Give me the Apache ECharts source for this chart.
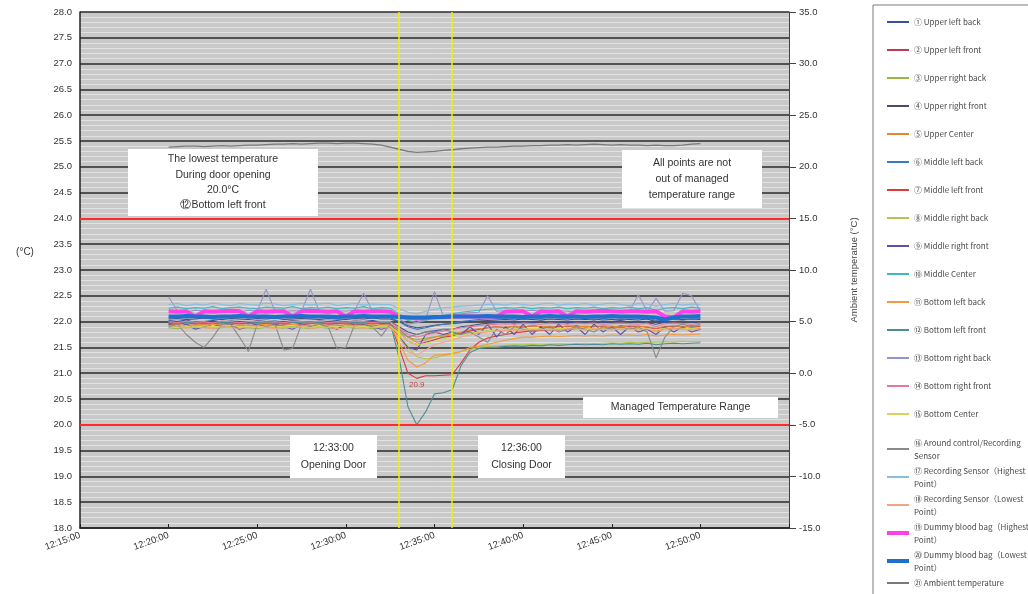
<!DOCTYPE html>
<html>
<head>
<meta charset="utf-8">
<script src="https://cdn.jsdelivr.net/npm/echarts@6/dist/echarts.min.js"></script>
<style>
  html, body { margin: 0; padding: 0; background: #ffffff; }
  #chart { width: 1028px; height: 594px; }
</style>
</head>
<body>
<div id="chart"></div>
<script>
// Sample times (30 s logging interval)
const TIMES = [
  '12:20:00','12:20:30','12:21:00','12:21:30','12:22:00','12:22:30','12:23:00','12:23:30','12:24:00','12:24:30',
  '12:25:00','12:25:30','12:26:00','12:26:30','12:27:00','12:27:30','12:28:00','12:28:30','12:29:00','12:29:30',
  '12:30:00','12:30:30','12:31:00','12:31:30','12:32:00','12:32:30','12:33:00','12:33:30','12:34:00','12:34:30',
  '12:35:00','12:35:30','12:36:00','12:36:30','12:37:00','12:37:30','12:38:00','12:38:30','12:39:00','12:39:30',
  '12:40:00','12:40:30','12:41:00','12:41:30','12:42:00','12:42:30','12:43:00','12:43:30','12:44:00','12:44:30',
  '12:45:00','12:45:30','12:46:00','12:46:30','12:47:00','12:47:30','12:48:00','12:48:30','12:49:00','12:49:30',
  '12:50:00'
];

const AXIS_START = '12:15:00';
const AXIS_END = '12:55:00';
const X_TICK_LABELS = ['12:15:00','12:20:00','12:25:00','12:30:00','12:35:00','12:40:00','12:45:00','12:50:00'];
const DOOR_TIMES = ['12:33:00', '12:36:00'];
const DOOR_TEXT = ['Opening Door', 'Closing Door'];
const MANAGED_RANGE = [20.0, 24.0];

// Temperatures (°C)
const upperLeftBack = [
  22.02,22.00,22.03,21.98,22.00,22.02,21.99,22.01,22.00,21.98,
  22.02,22.00,22.01,21.99,22.02,22.00,21.98,22.01,22.00,22.02,
  21.99,22.01,22.00,22.02,21.99,22.00,21.90,21.80,21.75,21.80,
  21.82,21.85,21.85,21.90,21.92,21.95,21.97,21.98,22.00,21.97,
  22.00,21.98,22.01,21.99,22.00,21.97,22.00,21.99,22.01,21.98,
  22.00,22.02,21.99,22.00,21.98,21.95,21.99,22.00,22.01,21.99,
  22.00
];
const upperLeftFront = [
  21.93,21.95,21.90,21.94,21.92,21.95,21.93,21.90,21.94,21.92,
  21.95,21.93,21.91,21.94,21.92,21.95,21.93,21.90,21.94,21.93,
  21.92,21.95,21.93,21.91,21.94,21.93,21.80,21.62,21.55,21.60,
  21.65,21.70,21.72,21.78,21.82,21.85,21.88,21.90,21.88,21.91,
  21.89,21.92,21.90,21.88,21.91,21.90,21.92,21.89,21.91,21.90,
  21.88,21.92,21.90,21.91,21.89,21.86,21.90,21.91,21.89,21.92,
  21.90
];
const upperRightBack = [
  21.88,21.86,21.90,21.87,21.89,21.86,21.88,21.90,21.87,21.88,
  21.86,21.89,21.88,21.87,21.90,21.88,21.86,21.89,21.87,21.88,
  21.90,21.87,21.88,21.86,21.89,21.88,21.80,21.70,21.65,21.68,
  21.70,21.72,21.74,21.76,21.78,21.80,21.82,21.83,21.84,21.85,
  21.84,21.86,21.85,21.84,21.86,21.85,21.87,21.86,21.85,21.87,
  21.86,21.85,21.87,21.86,21.85,21.82,21.86,21.87,21.86,21.85,
  21.87
];
const upperRightFront = [
  22.05,22.06,22.04,22.05,22.07,22.05,22.04,22.06,22.05,22.04,
  22.06,22.05,22.07,22.04,22.05,22.06,22.05,22.04,22.06,22.05,
  22.04,22.06,22.05,22.07,22.05,22.05,22.00,21.92,21.88,21.90,
  21.93,21.95,21.96,21.98,22.00,22.01,22.02,22.03,22.04,22.03,
  22.05,22.04,22.03,22.05,22.04,22.03,22.05,22.04,22.05,22.03,
  22.04,22.05,22.04,22.03,22.05,22.00,22.04,22.05,22.04,22.05,
  22.04
];
const upperCenter = [
  21.97,21.95,21.98,21.96,21.94,21.97,21.98,21.95,21.97,21.96,
  21.98,21.95,21.97,21.96,21.94,21.98,21.97,21.95,21.96,21.98,
  21.95,21.97,21.96,21.98,21.95,21.96,21.85,21.70,21.60,21.65,
  21.70,21.74,21.76,21.80,21.84,21.86,21.88,21.90,21.89,21.91,
  21.90,21.92,21.90,21.91,21.89,21.92,21.90,21.91,21.90,21.92,
  21.91,21.90,21.92,21.91,21.90,21.87,21.91,21.92,21.90,21.91,
  21.92
];
const middleLeftBack = [
  22.08,22.10,22.07,22.09,22.08,22.10,22.07,22.08,22.09,22.07,
  22.10,22.08,22.07,22.09,22.08,22.10,22.07,22.09,22.08,22.10,
  22.07,22.08,22.09,22.07,22.10,22.08,22.00,21.90,21.85,21.88,
  21.92,21.95,21.97,22.00,22.02,22.04,22.05,22.06,22.07,22.06,
  22.08,22.07,22.06,22.08,22.07,22.06,22.08,22.07,22.08,22.06,
  22.07,22.08,22.07,22.06,22.08,22.02,22.06,22.07,22.08,22.07,
  22.06
];
const middleLeftFront = [
  21.96,21.98,21.95,21.97,21.99,21.96,21.98,21.95,21.97,21.96,
  21.98,21.96,21.95,21.97,21.99,21.96,21.98,21.95,21.97,21.96,
  21.98,21.95,21.97,21.99,21.96,21.97,21.50,21.00,20.90,20.95,
  20.95,20.96,20.97,21.20,21.45,21.60,21.68,21.72,21.75,21.78,
  21.80,21.82,21.83,21.85,21.84,21.86,21.85,21.86,21.87,21.85,
  21.86,21.88,21.86,21.87,21.85,21.82,21.86,21.87,21.86,21.88,
  21.87
];
const middleRightBack = [
  21.90,21.92,21.89,21.91,21.90,21.88,21.92,21.90,21.91,21.89,
  21.92,21.90,21.88,21.91,21.90,21.92,21.89,21.91,21.90,21.88,
  21.91,21.90,21.92,21.89,21.91,21.90,21.75,21.50,21.32,21.28,
  21.30,21.34,21.38,21.42,21.46,21.50,21.52,21.53,21.54,21.55,
  21.55,21.56,21.55,21.56,21.57,21.56,21.57,21.58,21.57,21.58,
  21.59,21.58,21.60,21.59,21.60,21.60,21.61,21.60,21.62,21.61,
  21.62
];
const middleRightFront = [
  21.95,21.90,21.95,21.85,21.90,21.95,21.90,21.95,21.85,21.90,
  21.95,21.90,21.95,21.90,21.85,21.95,21.90,21.95,21.90,21.85,
  21.95,21.90,21.95,21.90,21.85,21.90,21.70,21.50,21.45,21.75,
  21.80,21.75,21.80,21.75,21.90,21.75,21.95,21.70,21.90,21.75,
  21.95,21.75,21.90,21.75,21.95,21.80,21.90,21.75,21.95,21.80,
  21.90,21.75,21.90,21.80,21.85,21.75,21.90,21.80,21.90,21.80,
  21.85
];
const middleCenter = [
  22.26,22.28,22.25,22.27,22.26,22.29,22.25,22.27,22.28,22.26,
  22.25,22.28,22.27,22.26,22.29,22.25,22.27,22.26,22.28,22.25,
  22.27,22.26,22.29,22.25,22.27,22.26,22.15,22.02,21.98,22.02,
  22.08,22.12,22.15,22.18,22.20,22.22,22.24,22.25,22.27,22.26,
  22.28,22.25,22.27,22.26,22.28,22.25,22.27,22.26,22.28,22.25,
  22.27,22.26,22.28,22.25,22.27,22.22,22.26,22.27,22.25,22.28,
  22.26
];
const bottomLeftBack = [
  21.92,21.94,21.91,21.93,21.92,21.95,21.93,21.91,21.94,21.92,
  21.93,21.95,21.92,21.91,21.94,21.93,21.92,21.95,21.91,21.93,
  21.94,21.92,21.93,21.95,21.92,21.93,21.60,21.25,21.12,21.20,
  21.35,21.36,21.38,21.42,21.50,21.52,21.56,21.60,21.64,21.67,
  21.70,21.70,21.71,21.72,21.71,21.72,21.73,21.72,21.73,21.72,
  21.74,21.73,21.74,21.73,21.75,21.72,21.74,21.75,21.74,21.75,
  21.76
];
const bottomLeftFront = [
  21.98,21.97,21.99,21.98,21.96,21.98,21.99,21.97,21.98,21.96,
  21.99,21.97,21.98,21.96,21.98,21.99,21.97,21.98,21.96,21.98,
  21.97,21.99,21.98,21.96,21.98,21.98,21.30,20.35,20.00,20.25,
  20.60,20.62,20.68,21.15,21.40,21.48,21.50,21.50,21.52,21.53,
  21.52,21.54,21.53,21.55,21.54,21.55,21.56,21.55,21.56,21.55,
  21.57,21.56,21.57,21.56,21.58,21.55,21.57,21.58,21.57,21.58,
  21.59
];
const bottomRightBack = [
  22.48,22.20,22.18,22.22,22.20,22.19,22.21,22.20,22.18,22.22,
  22.20,22.63,22.20,22.19,22.21,22.20,22.63,22.20,22.18,22.21,
  22.20,22.22,22.55,22.20,22.21,22.19,22.05,21.95,21.98,22.05,
  22.58,22.10,22.12,22.15,22.17,22.18,22.50,22.20,22.21,22.19,
  22.20,22.22,22.20,22.19,22.21,22.20,22.18,22.20,22.22,22.19,
  22.20,22.21,22.20,22.52,22.20,22.45,22.20,22.21,22.55,22.50,
  22.20
];
const bottomRightFront = [
  22.00,21.98,22.01,21.99,22.00,21.97,22.01,22.00,21.98,22.00,
  22.01,21.99,22.00,21.98,22.01,22.00,21.99,22.01,21.98,22.00,
  21.99,22.01,22.00,21.98,22.00,22.00,21.88,21.75,21.70,21.74,
  21.78,21.82,21.85,21.88,21.90,21.92,21.94,21.95,21.96,21.95,
  21.97,21.96,21.95,21.97,21.96,21.95,21.97,21.96,21.97,21.95,
  21.96,21.97,21.96,21.95,21.97,21.90,21.96,21.97,21.96,21.95,
  21.97
];
const bottomCenter = [
  21.90,21.92,21.91,21.89,21.92,21.90,21.91,21.93,21.90,21.91,
  21.89,21.92,21.90,21.91,21.93,21.90,21.89,21.92,21.91,21.90,
  21.92,21.90,21.91,21.89,21.92,21.91,21.78,21.62,21.55,21.58,
  21.62,21.66,21.70,21.74,21.77,21.80,21.82,21.84,21.85,21.86,
  21.85,21.87,21.86,21.85,21.87,21.86,21.88,21.87,21.86,21.88,
  21.87,21.86,21.88,21.87,21.86,21.83,21.87,21.88,21.87,21.86,
  21.88
];
const aroundControl = [
  21.90,21.95,21.75,21.60,21.50,21.70,21.95,21.95,21.70,21.42,
  21.95,22.00,21.95,21.45,21.48,21.95,22.00,21.95,21.90,21.47,
  21.50,21.95,21.97,21.90,21.72,21.95,21.85,21.70,21.75,21.80,
  21.80,21.85,21.80,21.75,21.80,21.70,21.60,21.85,21.75,21.90,
  21.85,21.80,21.85,21.90,21.80,21.85,21.90,21.85,21.80,21.90,
  21.85,21.90,21.85,21.90,21.80,21.30,21.70,21.90,21.95,21.90,
  21.95
];
const recordingHigh = [
  22.33,22.35,22.31,22.34,22.32,22.36,22.33,22.31,22.35,22.33,
  22.32,22.36,22.34,22.31,22.33,22.35,22.32,22.34,22.36,22.31,
  22.33,22.35,22.32,22.34,22.33,22.33,22.25,22.18,22.15,22.20,
  22.24,22.27,22.28,22.30,22.31,22.32,22.33,22.34,22.32,22.35,
  22.33,22.31,22.34,22.36,22.32,22.34,22.33,22.35,22.32,22.34,
  22.36,22.33,22.31,22.35,22.34,22.30,22.33,22.35,22.32,22.34,
  22.33
];
const recordingLow = [
  21.88,21.90,21.87,21.89,21.88,21.86,21.90,21.88,21.87,21.89,
  21.90,21.88,21.86,21.89,21.88,21.90,21.87,21.88,21.89,21.86,
  21.88,21.90,21.87,21.89,21.88,21.88,21.70,21.42,21.35,21.45,
  21.55,21.60,21.64,21.70,21.74,21.78,21.80,21.82,21.83,21.84,
  21.83,21.85,21.84,21.85,21.84,21.86,21.85,21.84,21.86,21.85,
  21.84,21.86,21.85,21.84,21.86,21.80,21.85,21.86,21.85,21.84,
  21.86
];
const bagHigh = [
  22.20,22.19,22.20,22.10,22.20,22.19,22.20,22.21,22.20,22.10,
  22.20,22.19,22.20,22.20,22.10,22.20,22.21,22.20,22.19,22.20,
  22.10,22.20,22.19,22.20,22.20,22.19,22.10,22.08,22.06,22.07,
  22.08,22.09,22.10,22.10,22.10,22.10,22.10,22.10,22.19,22.20,
  22.20,22.10,22.20,22.19,22.20,22.10,22.20,22.19,22.20,22.21,
  22.20,22.19,22.20,22.20,22.19,22.20,22.10,22.08,22.20,22.19,
  22.20
];
const bagLow = [
  22.10,22.10,22.11,22.10,22.10,22.09,22.10,22.10,22.11,22.10,
  22.10,22.10,22.09,22.10,22.10,22.11,22.10,22.10,22.10,22.09,
  22.10,22.10,22.11,22.10,22.10,22.10,22.09,22.08,22.08,22.08,
  22.09,22.09,22.10,22.10,22.10,22.10,22.11,22.10,22.10,22.10,
  22.09,22.10,22.10,22.11,22.10,22.10,22.10,22.09,22.10,22.10,
  22.11,22.10,22.10,22.10,22.09,22.08,22.04,22.08,22.10,22.10,
  22.11
];
const ambient = [
  21.90,21.95,22.00,22.00,21.95,22.00,22.05,22.00,22.05,22.10,
  22.10,22.15,22.20,22.20,22.25,22.20,22.25,22.30,22.30,22.25,
  22.30,22.30,22.25,22.20,22.10,21.90,21.70,21.50,21.40,21.45,
  21.50,21.60,21.65,21.75,21.80,21.85,21.90,21.90,21.95,22.00,
  22.00,22.05,22.05,22.10,22.10,22.15,22.10,22.15,22.20,22.15,
  22.10,22.15,22.10,22.10,22.05,22.10,22.05,22.05,22.10,22.20,
  22.25
];

const SERIES_NAMES = [
  '① Upper left back', '② Upper left front', '③ Upper right back', '④ Upper right front',
  '⑤ Upper Center', '⑥ Middle left back', '⑦ Middle left front', '⑧ Middle right back',
  '⑨ Middle right front', '⑩ Middle Center', '⑪ Bottom left back', '⑫ Bottom left front',
  '⑬ Bottom right back', '⑭ Bottom right front', '⑮ Bottom Center',
  '⑯ Around control/Recording\nSensor', '⑰ Recording Sensor（Highest\nPoint）',
  '⑱ Recording Sensor（Lowest\nPoint）', '⑲ Dummy blood bag（Highest\nPoint）',
  '⑳ Dummy blood bag（Lowest\nPoint）', '㉑ Ambient temperature'
];
const SERIES_VALUES = [
  upperLeftBack, upperLeftFront, upperRightBack, upperRightFront, upperCenter,
  middleLeftBack, middleLeftFront, middleRightBack, middleRightFront, middleCenter,
  bottomLeftBack, bottomLeftFront, bottomRightBack, bottomRightFront, bottomCenter,
  aroundControl, recordingHigh, recordingLow, bagHigh, bagLow, ambient
];
const SERIES_COLORS = [
  '#3d4f9a', '#c23a52', '#98b846', '#4a4a6a', '#e8862e',
  '#3a78c8', '#e03c3c', '#b0c850', '#6050a8', '#40b8c0',
  '#f39a3c', '#4a8f96', '#9494cc', '#e6789a', '#d8d65a',
  '#8a8a8a', '#88bce0', '#f4a484', '#ff40e8', '#1f6fd0', '#7a7a7a'
];

// Minutes after the start of the time axis
function minutesOf(t) {
  const p = t.split(':').map(Number);
  const q = AXIS_START.split(':').map(Number);
  return (p[0] * 60 + p[1] + p[2] / 60) - (q[0] * 60 + q[1] + q[2] / 60);
}

const FONT = 'Liberation Sans, Arial, sans-serif';
const AXIS_TEXT = { fontFamily: FONT, fontSize: 9.5, color: '#333' };

const series = SERIES_VALUES.map((vals, k) => {
  const isBag = k === 18 || k === 19;
  return {
    name: SERIES_NAMES[k],
    type: 'line',
    yAxisIndex: k === 20 ? 1 : 0,
    data: vals.map((v, i) => [minutesOf(TIMES[i]), v]),
    color: SERIES_COLORS[k],
    symbol: 'none',
    showSymbol: false,
    lineStyle: { width: isBag ? 4 : (k === 20 ? 1.3 : 1.1), color: SERIES_COLORS[k] },
    animation: false,
    silent: true
  };
});

// value label at the lowest point of ⑦ Middle left front
series[6].markPoint = {
  silent: true,
  animation: false,
  symbol: 'circle',
  symbolSize: 1,
  itemStyle: { color: 'rgba(0,0,0,0)' },
  label: {
    show: true, position: 'bottom', distance: 2,
    formatter: p => Number(p.value).toFixed(1),
    color: '#c83c3c', fontSize: 8, fontFamily: FONT
  },
  data: [{ type: 'min', valueDim: 'y' }]
};

// managed range and door events
series[0].markLine = {
  silent: true,
  symbol: ['none', 'none'],
  label: { show: false },
  animation: false,
  data: [
    { yAxis: MANAGED_RANGE[1], lineStyle: { color: '#ff2a2a', width: 2, type: 'solid' } },
    { yAxis: MANAGED_RANGE[0], lineStyle: { color: '#ff2a2a', width: 2, type: 'solid' } },
    { xAxis: minutesOf(DOOR_TIMES[0]), lineStyle: { color: '#f2f200', width: 1.5, type: 'solid' } },
    { xAxis: minutesOf(DOOR_TIMES[1]), lineStyle: { color: '#f2f200', width: 1.5, type: 'solid' } }
  ]
};

function noteBox(x, y, w, h, text, lineHeight) {
  return [
    { type: 'rect', z: 20, silent: true, shape: { x: x, y: y, width: w, height: h },
      style: { fill: '#ffffff' } },
    { type: 'text', z: 21, silent: true, x: x + w / 2, y: y + h / 2,
      style: { text: text, align: 'center', verticalAlign: 'middle', fontFamily: FONT,
               fontSize: 10.5, lineHeight: lineHeight, fill: '#333' } }
  ];
}

const lowestTeal = Math.min(...bottomLeftFront).toFixed(1);

const legendText = { fontFamily: 'Noto Sans CJK JP, sans-serif', fontSize: 8, color: '#4a4a4a' };

const option = {
  animation: false,
  backgroundColor: '#ffffff',
  grid: {
    left: 80, right: 239, top: 12, bottom: 66,
    show: true, backgroundColor: '#c9c9c9', borderWidth: 0,
    containLabel: false, outerBoundsMode: 'none'
  },
  xAxis: {
    type: 'value',
    min: minutesOf(AXIS_START), max: minutesOf(AXIS_END), interval: 5,
    axisLine: { show: true, onZero: false, lineStyle: { color: '#222', width: 1.5 } },
    axisTick: { show: true, inside: true, length: 4, lineStyle: { color: '#222' } },
    splitLine: { show: false },
    axisLabel: {
      ...AXIS_TEXT, rotate: 20, margin: 7,
      formatter: v => X_TICK_LABELS[Math.round(v / 5)] || ''
    }
  },
  yAxis: [
    {
      type: 'value', min: 18, max: 28, interval: 0.5,
      axisLine: { show: true, lineStyle: { color: '#222', width: 1.5 } },
      axisTick: { show: false },
      axisLabel: { ...AXIS_TEXT, margin: 8, formatter: v => v.toFixed(1) },
      splitLine: { show: true, lineStyle: { color: '#2a2a2a', width: 1.5 } },
      minorTick: { show: false, splitNumber: 5 },
      minorSplitLine: { show: true, lineStyle: { color: '#e2e2e2', width: 1 } }
    },
    {
      type: 'value', min: -15, max: 35, interval: 5, position: 'right',
      axisLine: { show: true, lineStyle: { color: '#444', width: 1 } },
      axisTick: { show: true, inside: false, length: 7, lineStyle: { color: '#444' } },
      axisLabel: { ...AXIS_TEXT, margin: 10, formatter: v => v.toFixed(1) },
      splitLine: { show: false },
      name: 'Ambient temperatue (°C)',
      nameLocation: 'middle', nameRotate: 90, nameGap: 60,
      nameTextStyle: { fontFamily: FONT, fontSize: 9.5, color: '#444' }
    }
  ],
  legend: [
    {
      orient: 'vertical', left: 882, top: 12, itemGap: 18,
      itemWidth: 22, itemHeight: 2, icon: 'rect',
      textStyle: { ...legendText, lineHeight: 10 },
      data: SERIES_NAMES.slice(0, 15), selectedMode: false
    },
    {
      orient: 'vertical', left: 882, top: 431, itemGap: 2,
      itemWidth: 22, itemHeight: 2, icon: 'rect',
      textStyle: { ...legendText, lineHeight: 13 },
      data: SERIES_NAMES.slice(15, 18), selectedMode: false
    },
    {
      orient: 'vertical', left: 882, top: 515, itemGap: 2,
      itemWidth: 22, itemHeight: 4, icon: 'rect',
      textStyle: { ...legendText, lineHeight: 13 },
      data: SERIES_NAMES.slice(18, 20), selectedMode: false
    },
    {
      orient: 'vertical', left: 882, top: 573, itemGap: 2,
      itemWidth: 22, itemHeight: 2, icon: 'rect',
      textStyle: { ...legendText, lineHeight: 10 },
      data: SERIES_NAMES.slice(20), selectedMode: false
    }
  ],
  graphic: [
    { type: 'rect', z: 0, silent: true, shape: { x: 873, y: 5, width: 170, height: 600 },
      style: { fill: '#ffffff', stroke: '#7a7a7a', lineWidth: 1 } },
    { type: 'text', x: 25, y: 252, silent: true,
      style: { text: '(°C)', align: 'center', verticalAlign: 'middle', fontFamily: FONT, fontSize: 10, fill: '#333' } },
    ...noteBox(128, 149, 190, 67,
      'The lowest temperature\nDuring door opening\n' + lowestTeal + '°C\n⑫Bottom left front', 15.3),
    ...noteBox(622, 150, 140, 58, 'All points are not\nout of managed\ntemperature range', 16),
    ...noteBox(583, 397, 195, 21, 'Managed Temperature Range', 14),
    ...noteBox(290, 435, 87, 43, DOOR_TIMES[0] + '\n' + DOOR_TEXT[0], 17),
    ...noteBox(478, 435, 87, 43, DOOR_TIMES[1] + '\n' + DOOR_TEXT[1], 17)
  ],
  series: series
};

const chart = echarts.init(document.getElementById('chart'), null, { renderer: 'canvas' });
chart.setOption(option);
</script>
</body>
</html>
